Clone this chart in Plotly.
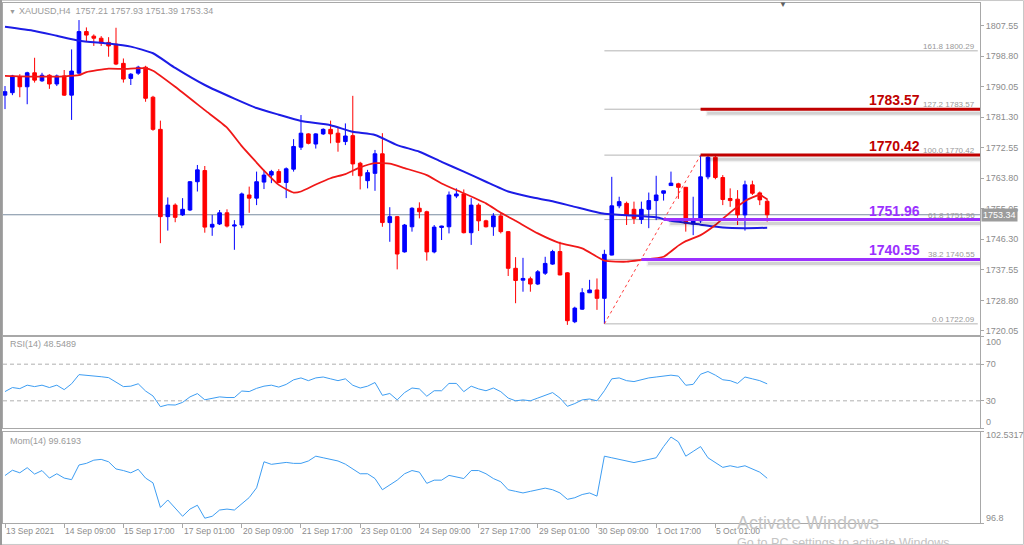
import plotly.graph_objects as go

# ---------------- data ----------------
OPEN = [1787.6, 1788.3, 1792.9, 1790.0, 1794.0, 1791.7, 1793.3, 1790.8, 1793.1, 1787.6,
        1793.9, 1805.8, 1804.5, 1803.9, 1802.7, 1802.2, 1796.7, 1792.4, 1793.9, 1795.6,
        1787.0, 1777.8, 1752.8, 1756.1, 1753.3, 1754.7, 1762.8, 1766.0, 1749.8, 1750.7,
        1753.9, 1750.1, 1750.4, 1759.0, 1758.1, 1762.7, 1764.7, 1765.7, 1762.6, 1766.4,
        1772.7, 1776.5, 1773.6, 1776.5, 1777.8, 1776.7, 1774.3, 1776.0, 1768.1, 1763.1,
        1765.2, 1770.8, 1751.1, 1752.8, 1742.7, 1749.9, 1755.2, 1754.2, 1742.7, 1749.7,
        1749.9, 1758.7, 1759.3, 1748.2, 1756.1, 1751.6, 1749.9, 1753.0, 1748.5, 1738.0,
        1734.6, 1735.0, 1733.5, 1736.6, 1739.2, 1742.8, 1736.7, 1722.7, 1726.3, 1731.0,
        1731.8, 1729.4, 1741.8, 1755.9, 1756.6, 1754.9, 1752.0, 1754.9, 1757.4, 1759.5,
        1761.7, 1762.2, 1761.2, 1750.7, 1751.6, 1764.2, 1769.8, 1764.0, 1758.0, 1757.8,
        1753.3, 1761.9, 1759.6, 1757.21]
HIGH = [1790.2, 1793.4, 1793.6, 1794.3, 1798.3, 1794.0, 1793.6, 1793.5, 1794.8, 1800.7,
        1809.1, 1807.0, 1805.0, 1804.5, 1804.2, 1806.9, 1798.1, 1793.9, 1796.0, 1796.0,
        1787.4, 1780.3, 1758.3, 1756.6, 1758.1, 1763.0, 1767.6, 1767.3, 1753.3, 1754.7,
        1754.9, 1751.8, 1759.7, 1761.4, 1765.7, 1766.2, 1766.2, 1766.4, 1766.9, 1775.0,
        1781.9, 1776.7, 1776.7, 1778.1, 1780.3, 1778.4, 1779.5, 1787.4, 1768.5, 1766.2,
        1771.9, 1776.7, 1755.5, 1753.0, 1750.7, 1755.5, 1756.9, 1754.5, 1750.4, 1750.2,
        1760.0, 1760.9, 1760.6, 1758.1, 1756.6, 1751.9, 1753.8, 1753.8, 1748.7, 1741.2,
        1741.0, 1735.6, 1737.5, 1741.3, 1743.3, 1745.6, 1736.9, 1727.0, 1732.3, 1734.7,
        1735.1, 1743.3, 1764.2, 1758.5, 1757.1, 1757.1, 1757.1, 1759.7, 1764.5, 1760.2,
        1765.7, 1762.5, 1761.3, 1758.5, 1770.42, 1770.2, 1770.3, 1764.7, 1760.9, 1760.4,
        1763.1, 1763.1, 1760.0, 1757.93]
LOW = [1783.6, 1787.6, 1787.0, 1785.0, 1791.2, 1791.4, 1789.4, 1790.2, 1787.4, 1780.5,
       1793.4, 1802.9, 1801.7, 1801.7, 1798.6, 1796.2, 1791.2, 1790.5, 1793.4, 1785.7,
       1777.4, 1745.2, 1748.8, 1751.2, 1753.0, 1754.4, 1760.0, 1748.2, 1747.3, 1750.4,
       1749.7, 1743.3, 1749.5, 1753.9, 1756.1, 1760.7, 1762.4, 1762.4, 1758.1, 1765.7,
       1771.9, 1773.5, 1772.3, 1776.2, 1773.8, 1771.4, 1773.3, 1764.5, 1760.6, 1760.9,
       1760.2, 1749.9, 1745.6, 1737.7, 1742.5, 1748.5, 1752.3, 1740.2, 1742.3, 1746.1,
       1748.0, 1758.1, 1748.0, 1744.7, 1748.7, 1749.7, 1747.3, 1748.0, 1735.8, 1728.0,
       1731.3, 1731.3, 1733.2, 1736.1, 1739.0, 1736.0, 1721.8, 1722.3, 1726.1, 1730.9,
       1726.1, 1722.09, 1741.7, 1755.2, 1750.4, 1750.7, 1750.7, 1749.5, 1751.8, 1757.4,
       1761.6, 1757.9, 1748.5, 1747.5, 1751.0, 1763.5, 1763.5, 1756.1, 1755.6, 1750.4,
       1748.8, 1759.0, 1756.1, 1751.39]
CLOSE = [1788.6, 1793.1, 1790.0, 1794.0, 1791.9, 1793.3, 1790.8, 1793.1, 1787.6, 1794.5,
         1805.8, 1804.8, 1803.9, 1802.5, 1801.7, 1796.5, 1792.2, 1793.6, 1795.6, 1786.7,
         1777.8, 1752.8, 1756.1, 1752.6, 1754.9, 1762.8, 1766.2, 1749.8, 1750.6, 1753.9,
         1750.1, 1750.4, 1759.3, 1758.1, 1762.8, 1764.7, 1765.7, 1762.6, 1766.5, 1772.9,
         1776.7, 1773.8, 1776.5, 1777.8, 1776.5, 1774.1, 1775.9, 1767.9, 1764.5, 1765.4,
         1770.8, 1751.1, 1752.8, 1742.1, 1750.4, 1755.2, 1754.2, 1742.7, 1749.8, 1750.1,
         1759.0, 1759.3, 1748.2, 1756.1, 1751.6, 1749.9, 1753.0, 1748.5, 1738.0, 1734.5,
         1735.1, 1733.5, 1737.0, 1739.4, 1742.8, 1736.1, 1723.0, 1726.6, 1731.0, 1731.8,
         1729.4, 1742.0, 1755.9, 1757.1, 1753.3, 1752.3, 1754.9, 1757.4, 1759.0, 1760.2,
         1762.4, 1761.2, 1750.9, 1751.6, 1764.2, 1769.8, 1764.0, 1757.7, 1757.4, 1753.3,
         1761.9, 1759.5, 1757.6, 1753.34]
BARS = list(range(len(OPEN)))

MA_SLOW_BAR = [0, 4, 7, 10, 14, 17, 20, 23, 27, 31, 34, 37, 40, 44, 47, 50, 53, 56, 59,
               62, 65, 68, 71, 74, 77, 81, 85, 88, 90, 94, 97, 100, 103]
MA_SLOW = [1807.2, 1806.0, 1804.6, 1803.2, 1802.4, 1801.5, 1799.6, 1795.4, 1790.5, 1786.6,
           1783.9, 1782.0, 1780.2, 1779.0, 1777.1, 1776.2, 1773.3, 1771.4, 1768.5,
           1765.7, 1762.8, 1760.0, 1758.4, 1757.2, 1755.6, 1753.6, 1753.1, 1752.6, 1751.6,
           1750.5, 1749.7, 1749.5, 1749.6]
MA_FAST_BAR = [0, 4, 8, 10, 11, 14, 16, 19, 20, 23, 27, 30, 32, 34, 35, 37, 39, 40, 42, 44,
               46, 48, 50, 52, 54, 57, 59, 62, 65, 67, 69, 72, 75, 78, 81, 84, 86, 89, 91,
               92, 94, 96, 98, 100, 102, 103]
MA_FAST = [1793.1, 1792.9, 1793.0, 1793.3, 1794.2, 1795.2, 1795.1, 1795.3, 1794.6, 1790.0,
           1783.3, 1778.3, 1773.0, 1768.3, 1766.0, 1761.9, 1759.7, 1760.0, 1762.0, 1763.8,
           1765.0, 1766.9, 1768.1, 1768.0, 1766.7, 1764.7, 1762.3, 1759.5, 1756.6, 1753.9,
           1751.6, 1748.0, 1745.2, 1743.7, 1740.2, 1739.9, 1740.4, 1741.3, 1744.5, 1745.8,
           1747.5, 1750.4, 1754.0, 1757.3, 1759.0, 1757.8]

RSI = [40.1, 44.5, 43.3, 47.1, 45.5, 47.1, 44.5, 47.1, 42.2, 48.6,
       58.6, 58.0, 57.3, 56.3, 55.3, 50.8, 45.5, 46.0, 48.6, 40.7,
       35.3, 23.6, 25.7, 25.4, 28.3, 34.3, 37.9, 31.1, 32.6, 34.3,
       33.6, 33.6, 40.7, 40.1, 43.6, 46.0, 47.1, 45.0, 47.9, 52.9,
       55.0, 52.0, 55.0, 56.0, 54.0, 52.0, 54.0, 47.0, 44.0, 46.0,
       50.0, 36.0, 38.0, 31.0, 39.0, 44.0, 43.0, 35.0, 41.0, 41.0,
       49.0, 49.0, 40.0, 46.0, 43.0, 41.0, 44.0, 40.0, 33.0, 30.0,
       31.0, 30.0, 33.0, 36.0, 39.0, 33.0, 24.0, 27.0, 31.0, 32.0,
       30.0, 41.0, 54.0, 55.0, 52.0, 51.0, 53.0, 55.0, 56.0, 57.0,
       58.0, 57.0, 47.0, 48.0, 59.0, 62.0, 58.0, 53.0, 52.0, 49.0,
       56.0, 54.0, 52.0, 48.5489]
MOM = [99.79, 100.12, 99.96, 100.28, 99.88, 100.10, 99.63, 99.90, 99.63, 99.53,
       100.45, 100.55, 100.75, 100.80, 100.65, 100.20, 100.10, 99.96, 100.18, 99.63,
       99.33, 97.79, 98.26, 97.75, 97.24, 97.69, 97.93, 97.12, 97.24, 97.63,
       97.69, 97.63, 97.99, 98.41, 99.02, 100.65, 100.49, 100.55, 100.61, 100.55,
       100.55, 100.70, 101.00, 100.90, 100.80, 100.70, 100.50, 100.20, 99.90, 99.90,
       99.60, 98.90, 99.20, 99.50, 99.90, 100.10, 100.00, 99.30, 99.50, 99.50,
       99.80, 99.70, 99.60, 100.10, 100.10, 99.90, 99.60, 99.40, 98.90, 98.80,
       98.70, 98.80, 98.90, 99.00, 98.90, 98.70, 98.30, 98.40, 98.60, 98.70,
       98.50, 101.00, 100.90, 100.80, 100.70, 100.60, 100.70, 100.80, 100.90, 101.60,
       102.20, 101.90, 101.00, 101.30, 101.60, 100.90, 100.60, 100.30, 100.40, 100.30,
       100.40, 100.20, 100.00, 99.6193]

PRICE_TICKS = [1720.05, 1728.80, 1737.55, 1746.30, 1755.05, 1763.80, 1772.55,
               1781.30, 1790.05, 1798.80, 1807.55]
TIME_TICK_BARS = [0, 8, 16, 24, 32, 40, 48, 56, 64, 72, 80, 88, 96]
TIME_TICK_LABELS = ["13 Sep 2021", "14 Sep 09:00", "15 Sep 17:00", "17 Sep 01:00",
                    "20 Sep 09:00", "21 Sep 17:00", "23 Sep 01:00", "24 Sep 09:00",
                    "27 Sep 17:00", "29 Sep 01:00", "30 Sep 09:00", "1 Oct 17:00",
                    "5 Oct 01:00"]

FIB_PCT = ["161.8", "127.2", "100.0", "61.8", "38.2", "0.0"]
FIB_LEVELS = [1800.29, 1783.57, 1770.42, 1751.96, 1740.55, 1722.09]
FIB_LOW_BAR, FIB_HIGH_BAR = 81, 94
SR_LEVELS = [1783.57, 1770.42, 1751.96, 1740.55]
SR_START_BAR = [94, 94, 89, 86]
SR_COLORS = ["#c00000", "#c00000", "#9b30ff", "#9b30ff"]
CUR_PRICE = 1753.34
HEADER = "XAUUSD,H4  1757.21 1757.93 1751.39 1753.34"

# ---------------- layout geometry ----------------
W, H = 1024, 545
def px(x):
    return x / W
def py(y):
    return 1 - y / H

X0 = -0.27
X1 = 131.76
MAIN_RANGE = [1718.90, 1813.99]
MOM_RANGE = [96.8, 102.5317]

FONT = "Liberation Sans, Arial, sans-serif"
GRAY = "#8c8c8c"
AXC = "#a8a8a8"

fig = go.Figure()

fig.add_trace(go.Candlestick(
    x=BARS, open=OPEN, high=HIGH, low=LOW, close=CLOSE,
    increasing=dict(line=dict(color="#0000ff", width=1), fillcolor="#0000ff"),
    decreasing=dict(line=dict(color="#ff0000", width=1), fillcolor="#ff0000"),
    whiskerwidth=0, hoverinfo="skip", showlegend=False, xaxis="x", yaxis="y"))

fig.add_trace(go.Scatter(x=MA_SLOW_BAR, y=MA_SLOW, mode="lines", line=dict(color="#1c1ce6", width=2, shape="spline", smoothing=0.5),
                         showlegend=False, hoverinfo="skip", xaxis="x", yaxis="y"))
fig.add_trace(go.Scatter(x=MA_FAST_BAR, y=MA_FAST, mode="lines", line=dict(color="#f01818", width=1.8, shape="spline", smoothing=0.5),
                         showlegend=False, hoverinfo="skip", xaxis="x", yaxis="y"))

# fib diagonal
fig.add_trace(go.Scatter(x=[FIB_LOW_BAR, FIB_HIGH_BAR], y=[FIB_LEVELS[-1], FIB_LEVELS[2]], mode="lines",
                         line=dict(color="#ff4040", width=1, dash="dot"), showlegend=False, hoverinfo="skip",
                         xaxis="x", yaxis="y"))

fig.add_trace(go.Scatter(x=BARS, y=RSI, mode="lines", line=dict(color="#3d9df2", width=1),
                         showlegend=False, hoverinfo="skip", xaxis="x2", yaxis="y2"))
fig.add_trace(go.Scatter(x=BARS, y=MOM, mode="lines", line=dict(color="#3d9df2", width=1),
                         showlegend=False, hoverinfo="skip", xaxis="x3", yaxis="y3"))

shapes = []
# current price line
shapes.append(dict(type="line", xref="x", yref="y", x0=X0, x1=X1, y0=CUR_PRICE, y1=CUR_PRICE,
                   line=dict(color="#7a8ca0", width=1), layer="below"))
# fib levels
for lv in FIB_LEVELS:
    shapes.append(dict(type="line", xref="x", yref="y", x0=FIB_LOW_BAR, x1=X1 - 0.3, y0=lv, y1=lv,
                       line=dict(color="#b4b4b4", width=1), layer="below"))
# support/resistance lines with soft shadow
for lv, sb, col in zip(SR_LEVELS, SR_START_BAR, SR_COLORS):
    shapes.append(dict(type="line", xref="x", yref="y", x0=sb + 0.7, x1=X1, y0=lv - 1.15, y1=lv - 1.15,
                       line=dict(color="rgba(0,0,0,0.06)", width=6)))
    shapes.append(dict(type="line", xref="x", yref="y", x0=sb + 0.9, x1=X1, y0=lv - 1.15, y1=lv - 1.15,
                       line=dict(color="rgba(0,0,0,0.12)", width=3)))
    shapes.append(dict(type="line", xref="x", yref="y", x0=sb, x1=X1, y0=lv, y1=lv,
                       line=dict(color=col, width=3)))
# RSI levels
for lv in (70, 30):
    shapes.append(dict(type="line", xref="x2", yref="y2", x0=X0, x1=X1, y0=lv, y1=lv,
                       line=dict(color="#b0b0b0", width=1, dash="4px,3px"), layer="below"))
# outer frame
shapes.append(dict(type="rect", xref="paper", yref="paper", x0=0.0005, x1=0.9995, y0=0.001, y1=0.999,
                   line=dict(color="#c8c8c8", width=1)))
shapes.append(dict(type="line", xref="paper", yref="paper", x0=px(1), x1=px(1), y0=0, y1=1,
                   line=dict(color="#9a9a9a", width=2)))

ann = []
def text(x, y, s, size=9, color=GRAY, xa="left", ya="middle", xref="paper", yref="paper", bold=False, **kw):
    ann.append(dict(x=x, y=y, xref=xref, yref=yref, text=("<b>%s</b>" % s) if bold else s, showarrow=False,
                    xanchor=xa, yanchor=ya, font=dict(family=FONT, size=size, color=color), **kw))

text(px(7), py(11), "▼", size=7, color="#9a9a9a")
text(px(17), py(11), HEADER, size=9, color="#9a9a9a")
text(px(783), py(5), "▼", size=8, color="#606060", xa="center")
text(px(8), py(344), "RSI(14) 48.5489", size=9, color="#9a9a9a")
text(px(8), py(441), "Mom(14) 99.6193", size=9, color="#9a9a9a")
text(px(984), py(341.5), "100", size=9)
text(px(984), py(422), "0", size=9)
text(px(984), py(435), "102.5317", size=9)
text(px(984), py(518), "96.8", size=9)

# fib small labels
for pct, lv in zip(FIB_PCT, FIB_LEVELS):
    text(px(977), lv, "%s %.2f" % (pct, lv), size=8, color="#999999", xa="right", ya="bottom", yref="y", yshift=-2)
# bold level labels
for lv, col in zip(SR_LEVELS, SR_COLORS):
    text(px(922), lv, "%.2f" % lv, size=14, color=col, xa="right", ya="bottom", yref="y", bold=True, yshift=-1)

# current price tag
text(px(981), CUR_PRICE, "%.2f" % CUR_PRICE, size=9, color="white", yref="y", bgcolor="#9c9c9c", borderpad=1)

# time labels
for b, s in zip(TIME_TICK_BARS, TIME_TICK_LABELS):
    text(b, py(531), s, size=8.5, xref="x3", xa="left", xshift=-1)

# watermark
text(px(735), py(523), "Activate Windows", size=18, color="#c4c4c4", xa="left")
text(px(735), py(543), "Go to PC settings to activate Windows.", size=12.5, color="#c4c4c4", xa="left")

axis_common = dict(showgrid=False, zeroline=False, showline=True, mirror=True, linecolor=AXC, linewidth=1)
xdom = [px(3), px(980)]
layout = dict(
    width=W, height=H, margin=dict(l=0, r=0, t=0, b=0),
    paper_bgcolor="white", plot_bgcolor="white", showlegend=False,
    xaxis=dict(domain=xdom, range=[X0, X1], anchor="y", showticklabels=False, ticks="",
               rangeslider=dict(visible=False), **axis_common),
    xaxis2=dict(domain=xdom, range=[X0, X1], anchor="y2", matches="x", showticklabels=False, ticks="", **axis_common),
    xaxis3=dict(domain=xdom, range=[X0, X1], anchor="y3", matches="x", showticklabels=False,
                tickvals=TIME_TICK_BARS, ticks="outside", ticklen=4, tickcolor=AXC, **axis_common),
    yaxis=dict(domain=[py(335), py(3)], range=MAIN_RANGE, side="right", anchor="x",
               tickvals=PRICE_TICKS, ticktext=["%.2f" % v for v in PRICE_TICKS],
               ticks="outside", ticklen=3, tickcolor=AXC,
               tickfont=dict(family=FONT, size=9, color=GRAY), **axis_common),
    yaxis2=dict(domain=[py(428.3), py(336.7)], range=[0, 100], side="right", anchor="x2",
                tickvals=[0, 30, 70, 100], ticktext=["", "30", "70", ""], ticks="outside", ticklen=3, tickcolor=AXC,
                tickfont=dict(family=FONT, size=9, color=GRAY), **axis_common),
    yaxis3=dict(domain=[py(523.3), py(431.7)], range=MOM_RANGE, side="right", anchor="x3",
                tickvals=MOM_RANGE, ticktext=["", ""], ticks="outside", ticklen=3, tickcolor=AXC,
                tickfont=dict(family=FONT, size=9, color=GRAY), **axis_common),
    shapes=shapes, annotations=ann,
)
fig.update_layout(**layout)
fig.write_html("out.html")
